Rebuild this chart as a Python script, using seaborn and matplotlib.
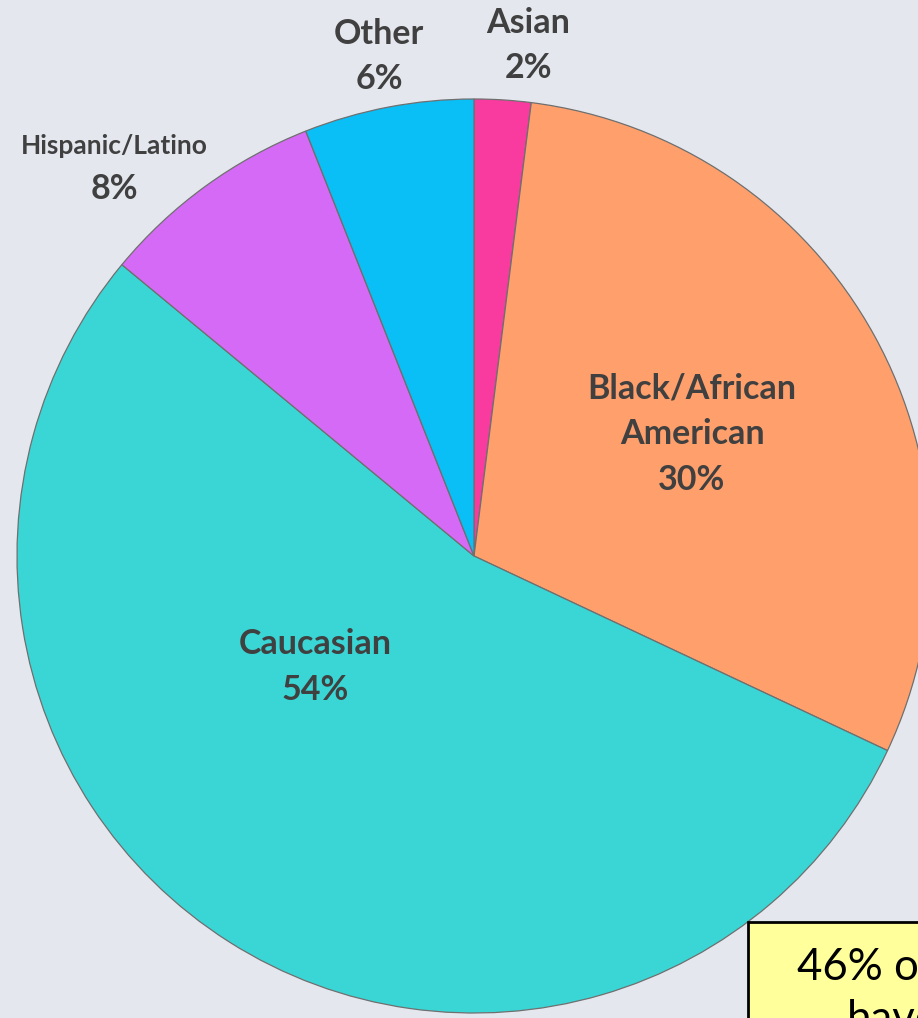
import matplotlib
matplotlib.use("Agg")
import matplotlib.pyplot as plt
import seaborn as sns
from matplotlib.patches import Rectangle

# ---- data ----
categories = ["Asian", "Black/African\nAmerican", "Caucasian", "Hispanic/Latino", "Other"]
values = [2, 30, 54, 8, 6]
pct_labels = ["2%", "30%", "54%", "8%", "6%"]
colors = ["#F93A9F", "#FFA06C", "#3AD6D6", "#D56AF6", "#0ABEF6"]
note_line1 = "46% of"
note_line2 = "have"

sns.set_theme(style="white")
plt.rcParams["font.family"] = ["Lato", "DejaVu Sans"]

W, H = 918, 1018
fig = plt.figure(figsize=(W / 100, H / 100), dpi=100)
bg = "#E4E8EE"
fig.patch.set_facecolor(bg)
ax = fig.add_axes([0, 0, 1, 1])
ax.set_facecolor(bg)

def Y(py):
    return H - py

cx, cy, r = 474, 556, 457
wedges, _ = ax.pie(values, colors=colors, startangle=90, counterclock=False,
                   center=(cx, Y(cy)), radius=r, frame=True,
                   wedgeprops=dict(edgecolor="#6f6f6f", linewidth=0.9))
ax.set_xlim(0, W)
ax.set_ylim(0, H)
ax.set_aspect("equal")
ax.axis("off")

tc = "#404040"
def lab(x, y, s, size):
    ax.text(x, Y(y), s, ha="center", va="center", fontsize=size,
            fontweight="bold", color=tc)

big = 24.5
# Asian
lab(528, 23, categories[0], big)
lab(528, 68, pct_labels[0], big)
# Other
lab(379, 34, categories[4], big)
lab(379, 79, pct_labels[4], big)
# Hispanic
lab(114, 146, categories[3], 19)
lab(114, 189, pct_labels[3], big)
# Black/African American
l1, l2 = categories[1].split("\n")
lab(692, 388, l1, big)
lab(692, 434, l2, big)
lab(692, 480, pct_labels[1], big)
# Caucasian
lab(315, 644, categories[2], big)
lab(315, 690, pct_labels[2], big)

# note box (partly outside the figure)
ax.add_patch(Rectangle((748, Y(1100)), 400, 1100 - 922, facecolor="#FFFF9C",
                       edgecolor="black", linewidth=2, zorder=5, clip_on=False))
ax.text(797, Y(980), note_line1, ha="left", va="baseline", fontsize=31.5,
        color="black", zorder=6)
ax.text(847, Y(1032), note_line2, ha="left", va="baseline", fontsize=31.5,
        color="black", zorder=6)

fig.savefig("out.png", dpi=100, facecolor=bg)
